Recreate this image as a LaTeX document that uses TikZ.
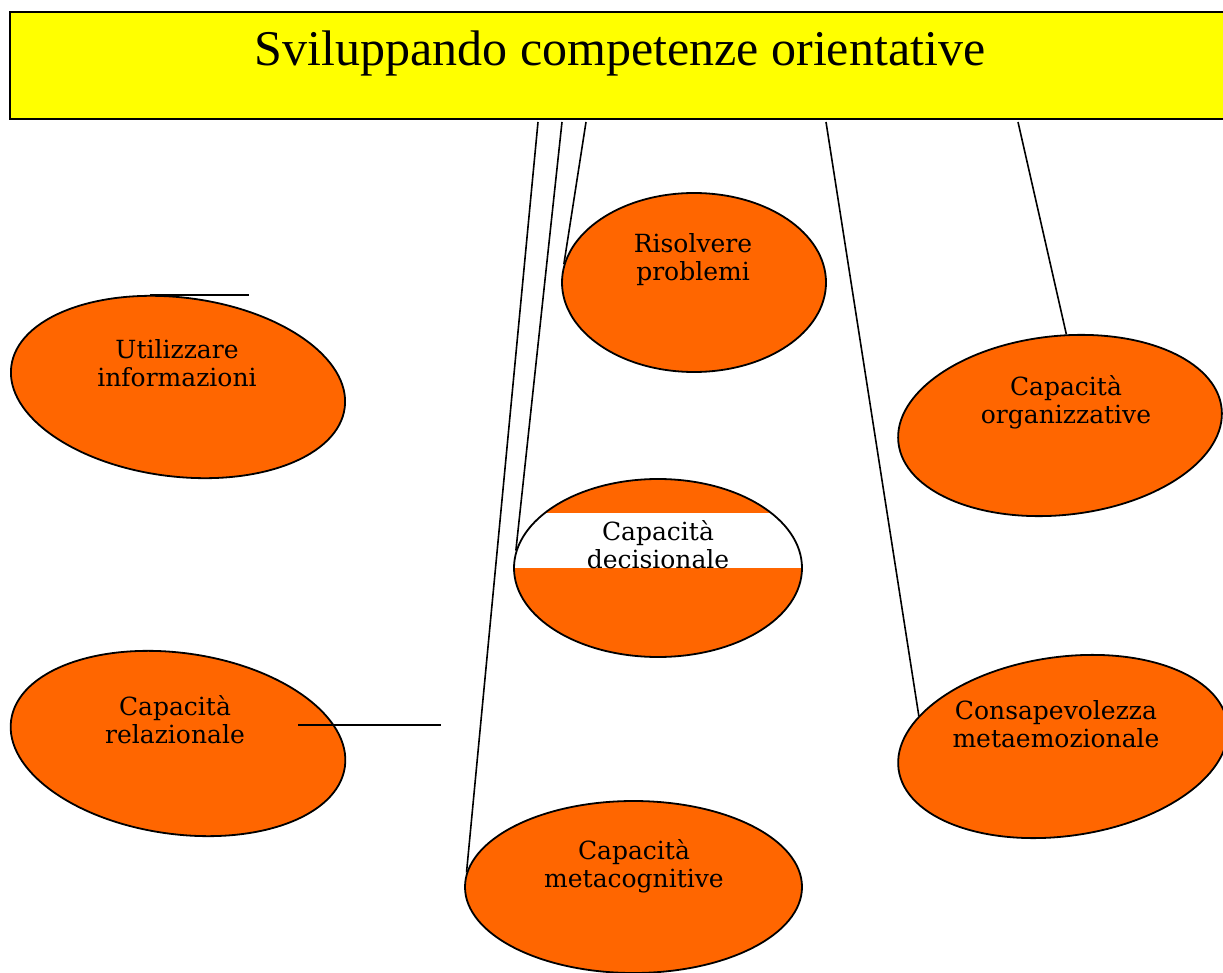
\documentclass[tikz,border=0pt]{standalone}
\usepackage{fontspec}
\setmainfont{DejaVu Serif}
\newfontfamily\titlefont{Liberation Serif}
\usetikzlibrary{shapes.geometric,calc}
\definecolor{orangefill}{HTML}{FF6600}
\definecolor{titleyellow}{HTML}{FFFF00}
\begin{document}
\begin{tikzpicture}[x=1pt,y=-1pt,
  oval/.style={ellipse, draw=black, line width=1.8pt, fill=orangefill, inner sep=0pt},
  ovaltext/.style={align=center, font=\fontsize{25}{28}\selectfont, inner sep=0pt},
  link/.style={draw=black, line width=1.6pt}]
\useasboundingbox (0,0) rectangle (1223,973);
\clip (0,0) rectangle (1223,973);
\fill[white] (0,0) rectangle (1223,973);
% title
\node[draw=black, line width=2.2pt, fill=titleyellow, minimum width=1216pt, minimum height=107pt,
      inner sep=0pt, text height=54pt, text depth=53pt,
      font=\titlefont\fontsize{50}{58}\selectfont] (title) at (618,65.5) {\hspace*{4pt}Sviluppando competenze orientative};
% ovals
\node[oval, minimum width=264pt, minimum height=179pt] (risol) at (694,282.5) {};
\node[oval, rotate=-7, minimum width=336pt, minimum height=179pt] (util) at (178,387) {};
\node[oval, rotate=6, minimum width=325pt, minimum height=179pt] (organ) at (1060,425.5) {};
\node[oval, minimum width=288pt, minimum height=178pt,
      path picture={\fill[white] (path picture bounding box.west) rectangle ($(path picture bounding box.east)+(0,-55)$);}] (decis) at (658,568) {};
\node[oval, rotate=-8, minimum width=337pt, minimum height=181pt] (relaz) at (178,743.5) {};
\node[oval, rotate=8, minimum width=332pt, minimum height=179pt] (consap) at (1063,746.5) {};
\node[oval, minimum width=337pt, minimum height=172pt] (meta) at (633.5,887) {};
% texts
\node[ovaltext] (risolT) at (693,259.5) {Risolvere\\problemi};
\node[ovaltext] (utilT) at (177,363) {Utilizzare\\informazioni};
\node[ovaltext] (organT) at (1066,402) {Capacità\\organizzative};
\node[ovaltext] (decisT) at (658,545) {Capacità\\decisionale};
\node[ovaltext] (relazT) at (175,720) {Capacità\\relazionale};
\node[ovaltext] (consapT) at (1056,724) {Consapevolezza\\metaemozionale};
\node[ovaltext] (metaT) at (634,866) {Capacità\\metacognitive};
% connectors
\coordinate (t1) at (538,122);
\coordinate (t2) at (562,122);
\coordinate (t3) at (586,122);
\coordinate (t4) at (826,122);
\coordinate (t5) at (1018,122);
\coordinate (u1) at (249,297);
\coordinate (r1) at (298,725);
\coordinate (r2) at (441,725);
\draw[link] (t1) -- (meta.175);
\draw[link] (t2) -- (decis.173);
\draw[link] (t3) -- (risol.172);
\draw[link] (t4) -- (consap.160);
\draw[link] (t5) -- (organ.80);
\draw[link] (util.114) -- (util.114 -| u1);
\draw[link] (r1) -- (r2);
\end{tikzpicture}
\end{document}
